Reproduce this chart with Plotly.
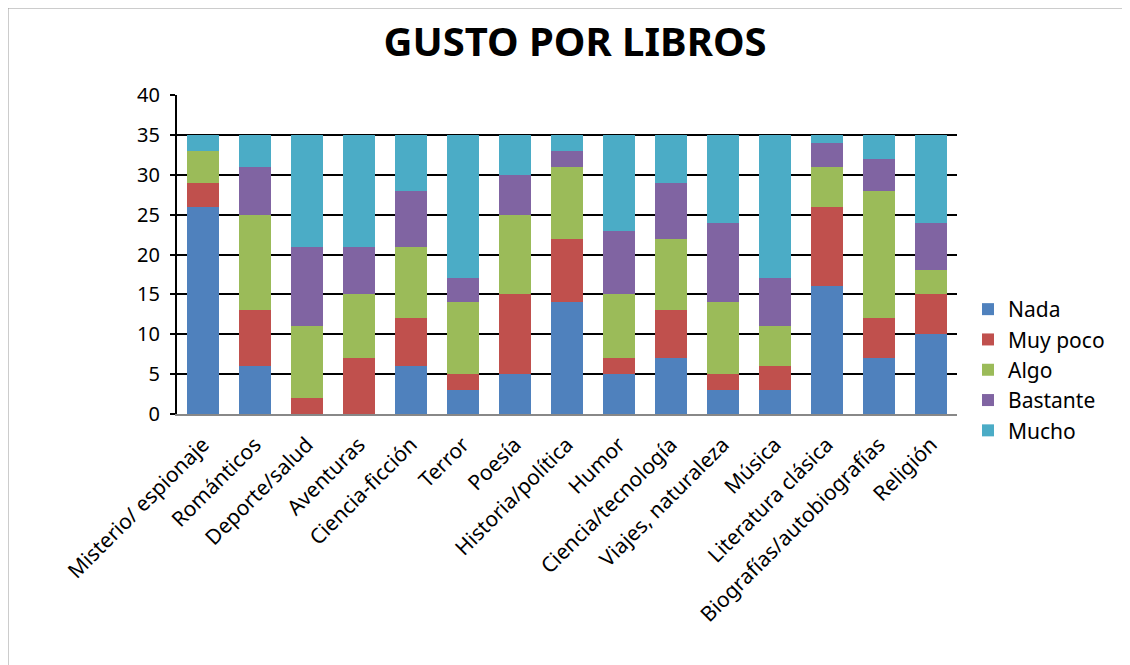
import plotly.graph_objects as go

categories = ["Misterio/ espionaje", "Románticos", "Deporte/salud", "Aventuras",
              "Ciencia-ficción", "Terror", "Poesía", "Historia/política", "Humor",
              "Ciencia/tecnología", "Viajes, naturaleza", "Música", "Literatura clásica",
              "Biografías/autobiografías", "Religión"]
nada = [26, 6, 0, 0, 6, 3, 5, 14, 5, 7, 3, 3, 16, 7, 10]
muy_poco = [3, 7, 2, 7, 6, 2, 10, 8, 2, 6, 2, 3, 10, 5, 5]
algo = [4, 12, 9, 8, 9, 9, 10, 9, 8, 9, 9, 5, 5, 16, 3]
bastante = [0, 6, 10, 6, 7, 3, 5, 2, 8, 7, 10, 6, 3, 4, 6]
mucho = [2, 4, 14, 14, 7, 18, 5, 2, 12, 6, 11, 18, 1, 3, 11]

series = [("Nada", nada, "#4F81BD"), ("Muy poco", muy_poco, "#C0504D"),
          ("Algo", algo, "#9BBB59"), ("Bastante", bastante, "#8064A2"),
          ("Mucho", mucho, "#4BACC6")]

fig = go.Figure()
for name, vals, col in series:
    fig.add_trace(go.Bar(x=categories, y=vals, name=name, marker=dict(color=col, line=dict(width=0))))

OFF = 8  # page body margin
W, H = 1122, 657
L, T = 177 - OFF, 95 - OFF
R = W - (957 - OFF)
B = H - (414 - OFF)
pw, ph = W - L - R, H - T - B

def sx(px):
    return (px - OFF - L) / pw

def sy(py):
    return 1 - (py - OFF - T) / ph

fig.update_layout(
    barmode="stack", bargap=0.37,
    width=W, height=H,
    margin=dict(l=L, r=R, t=T, b=B, autoexpand=False),
    paper_bgcolor="white", plot_bgcolor="white",
    font=dict(family="Noto Sans, Open Sans, sans-serif", color="#000", size=20),
    title=dict(text="<b>GUSTO POR LIBROS</b>", x=(575 - OFF) / W, xanchor="center",
               y=1 - (42 - OFF) / H, yanchor="middle",
               font=dict(size=40, color="#000")),
    legend=dict(x=sx(968), xanchor="left", y=sy(370), yanchor="middle",
                font=dict(size=21), traceorder="normal", itemwidth=30, tracegroupgap=0),
    xaxis=dict(tickangle=-45, showline=True, linecolor="#888", linewidth=2, ticks="",
               ticklabelstandoff=8, tickfont=dict(size=21)),
    yaxis=dict(range=[0, 40], dtick=5, showgrid=True, gridcolor="#000", gridwidth=2,
               showline=True, linecolor="#000", linewidth=2, zeroline=False,
               ticks="outside", ticklen=5, tickwidth=2, tickcolor="#000",
               ticklabelstandoff=6, tickfont=dict(size=20)),
    shapes=[
        dict(type="line", xref="paper", yref="paper", x0=-L / pw, x1=(W - L) / pw,
             y0=1 + T / ph, y1=1 + T / ph, line=dict(color="#999", width=1)),
        dict(type="line", xref="paper", yref="paper", x0=-L / pw, x1=-L / pw,
             y0=1 + T / ph, y1=-B / ph, line=dict(color="#999", width=1)),
    ],
)
fig.write_html("out.html")
